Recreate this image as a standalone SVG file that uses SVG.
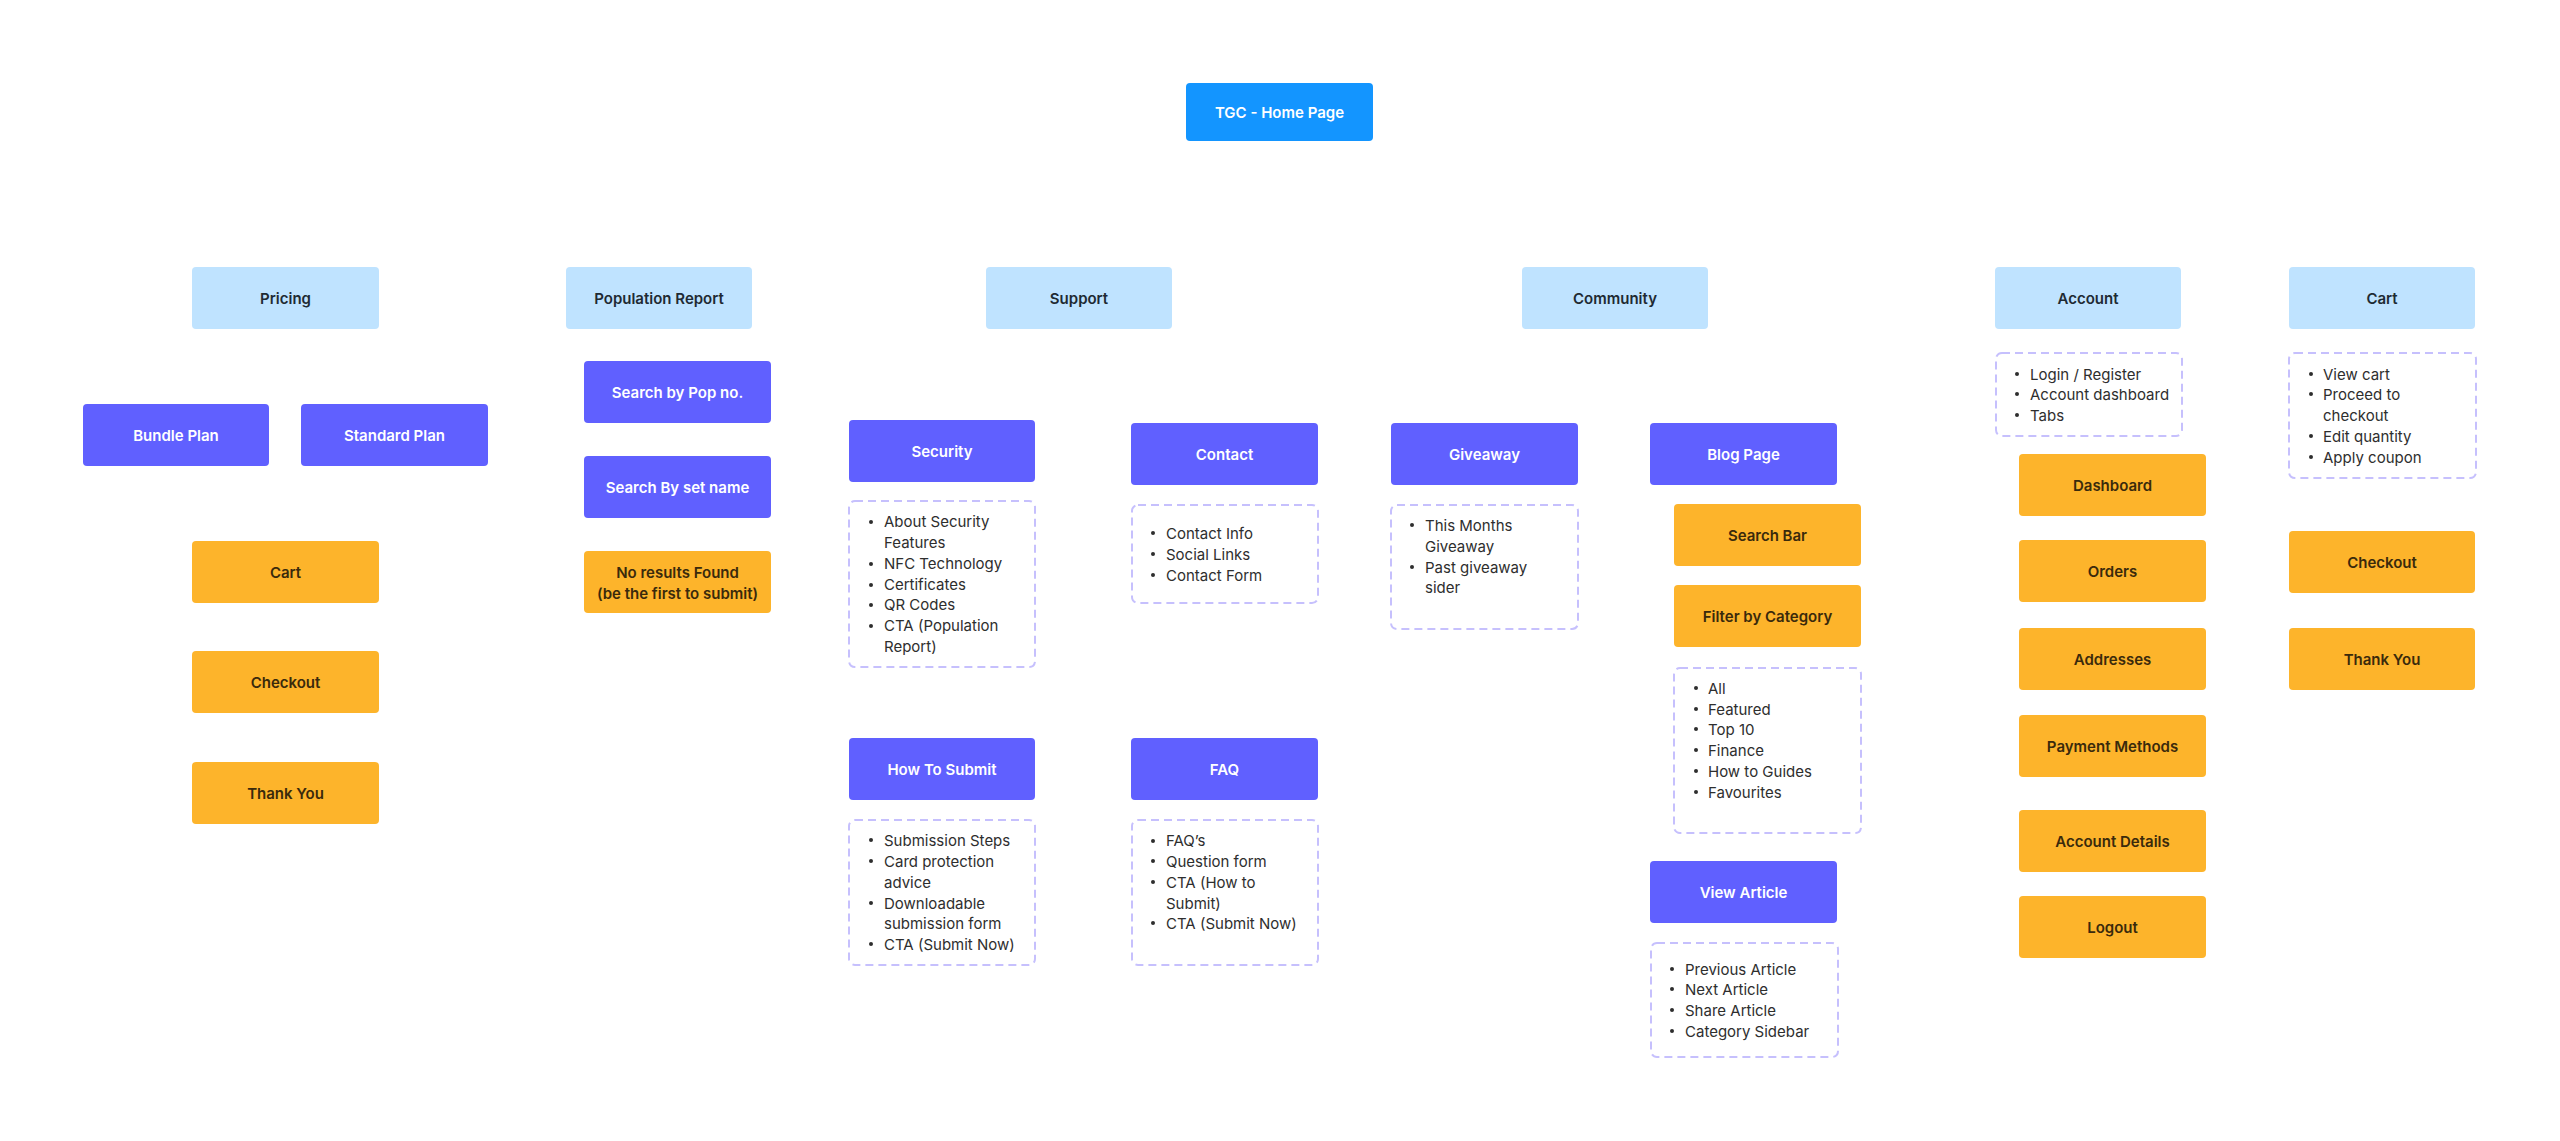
<svg xmlns="http://www.w3.org/2000/svg" width="2560" height="1141" viewBox="0 0 2560 1141">
<style>
text{font-family:Inter,"Noto Sans","Liberation Sans",sans-serif;font-size:15px}
.lbl{font-weight:600;text-anchor:middle}
.hdr rect{fill:#BFE3FF}
.hdr text{fill:#1E2A33}
.pur rect{fill:#6060FF}
.pur text{fill:#FFFFFF}
.org rect{fill:#FDB42B}
.org text{fill:#3A2A0C}
.lst rect{fill:none;stroke:#C6C0FD;stroke-width:2;stroke-dasharray:8 5}
.lst text{fill:#2E2E2E}
.lst circle{fill:#2E2E2E}
</style>
<rect width="2560" height="1141" fill="#FFFFFF"/>
<g id="connectors"/>
<g id="home"><rect x="1186" y="83" width="187" height="58" rx="4" fill="#1395FF"/><text class="lbl" x="1279.5" y="117.5" fill="#FFFFFF">TGC - Home Page</text></g>

<g id="pricing" class="hdr"><rect x="192" y="267" width="187" height="62" rx="4"/><text class="lbl" x="285.5" y="303.5">Pricing</text></g>
<g id="population" class="hdr"><rect x="566" y="267" width="186" height="62" rx="4"/><text class="lbl" x="659" y="303.5">Population Report</text></g>
<g id="support" class="hdr"><rect x="986" y="267" width="186" height="62" rx="4"/><text class="lbl" x="1079" y="303.5">Support</text></g>
<g id="community" class="hdr"><rect x="1522" y="267" width="186" height="62" rx="4"/><text class="lbl" x="1615" y="303.5">Community</text></g>
<g id="account" class="hdr"><rect x="1995" y="267" width="186" height="62" rx="4"/><text class="lbl" x="2088" y="303.5">Account</text></g>
<g id="cart" class="hdr"><rect x="2289" y="267" width="186" height="62" rx="4"/><text class="lbl" x="2382" y="303.5">Cart</text></g>

<g id="bundle-plan" class="pur"><rect x="83" y="404" width="186" height="62" rx="4"/><text class="lbl" x="176" y="440.5">Bundle Plan</text></g>
<g id="standard-plan" class="pur"><rect x="301" y="404" width="187" height="62" rx="4"/><text class="lbl" x="394.5" y="440.5">Standard Plan</text></g>
<g id="pricing-cart" class="org"><rect x="192" y="541" width="187" height="62" rx="4"/><text class="lbl" x="285.5" y="577.5">Cart</text></g>
<g id="pricing-checkout" class="org"><rect x="192" y="651" width="187" height="62" rx="4"/><text class="lbl" x="285.5" y="687.5">Checkout</text></g>
<g id="pricing-thankyou" class="org"><rect x="192" y="762" width="187" height="62" rx="4"/><text class="lbl" x="285.5" y="798.5">Thank You</text></g>

<g id="search-pop" class="pur"><rect x="584" y="361" width="187" height="62" rx="4"/><text class="lbl" x="677.5" y="397.5">Search by Pop no.</text></g>
<g id="search-set" class="pur"><rect x="584" y="456" width="187" height="62" rx="4"/><text class="lbl" x="677.5" y="492.5">Search By set name</text></g>
<g id="no-results" class="org"><rect x="584" y="551" width="187" height="62" rx="4"/><text class="lbl" x="677.5" y="578">No results Found</text><text class="lbl" x="677.5" y="599">(be the first to submit)</text></g>

<g id="security" class="pur"><rect x="849" y="420" width="186" height="62" rx="4"/><text class="lbl" x="942" y="456.5">Security</text></g>
<g id="security-list" class="lst"><rect x="849" y="501" width="186" height="166" rx="6"/>
<circle cx="871" cy="522" r="2"/><circle cx="871" cy="564" r="2"/><circle cx="871" cy="585" r="2"/><circle cx="871" cy="605" r="2"/><circle cx="871" cy="626" r="2"/>
<text x="884" y="527">About Security</text><text x="884" y="548">Features</text><text x="884" y="569">NFC Technology</text><text x="884" y="590">Certificates</text><text x="884" y="610">QR Codes</text><text x="884" y="631">CTA (Population</text><text x="884" y="652">Report)</text></g>

<g id="contact" class="pur"><rect x="1131" y="423" width="187" height="62" rx="4"/><text class="lbl" x="1224.5" y="459.5">Contact</text></g>
<g id="contact-list" class="lst"><rect x="1132" y="505" width="186" height="98" rx="6"/>
<circle cx="1153" cy="533" r="2"/><circle cx="1153" cy="554" r="2"/><circle cx="1153" cy="575" r="2"/>
<text x="1166" y="538.5">Contact Info</text><text x="1166" y="559.5">Social Links</text><text x="1166" y="580.5">Contact Form</text></g>

<g id="how-to-submit" class="pur"><rect x="849" y="738" width="186" height="62" rx="4"/><text class="lbl" x="942" y="774.5">How To Submit</text></g>
<g id="how-to-submit-list" class="lst"><rect x="849" y="820" width="186" height="145" rx="6"/>
<circle cx="871" cy="840" r="2"/><circle cx="871" cy="861" r="2"/><circle cx="871" cy="903" r="2"/><circle cx="871" cy="944" r="2"/>
<text x="884" y="845.5">Submission Steps</text><text x="884" y="866.5">Card protection</text><text x="884" y="887.5">advice</text><text x="884" y="908.5">Downloadable</text><text x="884" y="928.5">submission form</text><text x="884" y="949.5">CTA (Submit Now)</text></g>

<g id="faq" class="pur"><rect x="1131" y="738" width="187" height="62" rx="4"/><text class="lbl" x="1224.5" y="774.5">FAQ</text></g>
<g id="faq-list" class="lst"><rect x="1132" y="820" width="186" height="145" rx="6"/>
<circle cx="1153" cy="841" r="2"/><circle cx="1153" cy="861" r="2"/><circle cx="1153" cy="882" r="2"/><circle cx="1153" cy="923" r="2"/>
<text x="1166" y="846">FAQ’s</text><text x="1166" y="866.5">Question form</text><text x="1166" y="887.5">CTA (How to</text><text x="1166" y="908.5">Submit)</text><text x="1166" y="928.5">CTA (Submit Now)</text></g>

<g id="giveaway" class="pur"><rect x="1391" y="423" width="187" height="62" rx="4"/><text class="lbl" x="1484.5" y="459.5">Giveaway</text></g>
<g id="giveaway-list" class="lst"><rect x="1391" y="505" width="187" height="124" rx="6"/>
<circle cx="1412" cy="525" r="2"/><circle cx="1412" cy="567" r="2"/>
<text x="1425" y="530.5">This Months</text><text x="1425" y="551.5">Giveaway</text><text x="1425" y="572.5">Past giveaway</text><text x="1425" y="592.5">sider</text></g>

<g id="blog-page" class="pur"><rect x="1650" y="423" width="187" height="62" rx="4"/><text class="lbl" x="1743.5" y="459.5">Blog Page</text></g>
<g id="search-bar" class="org"><rect x="1674" y="504" width="187" height="62" rx="4"/><text class="lbl" x="1767.5" y="540.5">Search Bar</text></g>
<g id="filter-category" class="org"><rect x="1674" y="585" width="187" height="62" rx="4"/><text class="lbl" x="1767.5" y="621.5">Filter by Category</text></g>
<g id="category-list" class="lst"><rect x="1674" y="668" width="187" height="165" rx="6"/>
<circle cx="1696" cy="688" r="2"/><circle cx="1696" cy="709" r="2"/><circle cx="1696" cy="729" r="2"/><circle cx="1696" cy="750" r="2"/><circle cx="1696" cy="771" r="2"/><circle cx="1696" cy="792" r="2"/>
<text x="1708" y="693.5">All</text><text x="1708" y="714.5">Featured</text><text x="1708" y="734.5">Top 10</text><text x="1708" y="755.5">Finance</text><text x="1708" y="776.5">How to Guides</text><text x="1708" y="797.5">Favourites</text></g>

<g id="view-article" class="pur"><rect x="1650" y="861" width="187" height="62" rx="4"/><text class="lbl" x="1743.5" y="897.5">View Article</text></g>
<g id="view-article-list" class="lst"><rect x="1651" y="943" width="187" height="114" rx="6"/>
<circle cx="1672" cy="969" r="2"/><circle cx="1672" cy="989" r="2"/><circle cx="1672" cy="1010" r="2"/><circle cx="1672" cy="1031" r="2"/>
<text x="1685" y="974.5">Previous Article</text><text x="1685" y="994.5">Next Article</text><text x="1685" y="1015.5">Share Article</text><text x="1685" y="1036.5">Category Sidebar</text></g>

<g id="account-list" class="lst"><rect x="1996" y="353" width="186" height="83" rx="6"/>
<circle cx="2017" cy="374" r="2"/><circle cx="2017" cy="394" r="2"/><circle cx="2017" cy="415" r="2"/>
<text x="2030" y="379.5">Login / Register</text><text x="2030" y="399.5">Account dashboard</text><text x="2030" y="420.5">Tabs</text></g>
<g id="dashboard" class="org"><rect x="2019" y="454" width="187" height="62" rx="4"/><text class="lbl" x="2112.5" y="490.5">Dashboard</text></g>
<g id="orders" class="org"><rect x="2019" y="540" width="187" height="62" rx="4"/><text class="lbl" x="2112.5" y="576.5">Orders</text></g>
<g id="addresses" class="org"><rect x="2019" y="628" width="187" height="62" rx="4"/><text class="lbl" x="2112.5" y="664.5">Addresses</text></g>
<g id="payment-methods" class="org"><rect x="2019" y="715" width="187" height="62" rx="4"/><text class="lbl" x="2112.5" y="751.5">Payment Methods</text></g>
<g id="account-details" class="org"><rect x="2019" y="810" width="187" height="62" rx="4"/><text class="lbl" x="2112.5" y="846.5">Account Details</text></g>
<g id="logout" class="org"><rect x="2019" y="896" width="187" height="62" rx="4"/><text class="lbl" x="2112.5" y="932.5">Logout</text></g>

<g id="cart-list" class="lst"><rect x="2289" y="353" width="187" height="125" rx="6"/>
<circle cx="2311" cy="374" r="2"/><circle cx="2311" cy="394" r="2"/><circle cx="2311" cy="436" r="2"/><circle cx="2311" cy="457" r="2"/>
<text x="2323" y="379.5">View cart</text><text x="2323" y="399.5">Proceed to</text><text x="2323" y="420.5">checkout</text><text x="2323" y="441.5">Edit quantity</text><text x="2323" y="462.5">Apply coupon</text></g>
<g id="cart-checkout" class="org"><rect x="2289" y="531" width="186" height="62" rx="4"/><text class="lbl" x="2382" y="567.5">Checkout</text></g>
<g id="cart-thankyou" class="org"><rect x="2289" y="628" width="186" height="62" rx="4"/><text class="lbl" x="2382" y="664.5">Thank You</text></g>
</svg>
